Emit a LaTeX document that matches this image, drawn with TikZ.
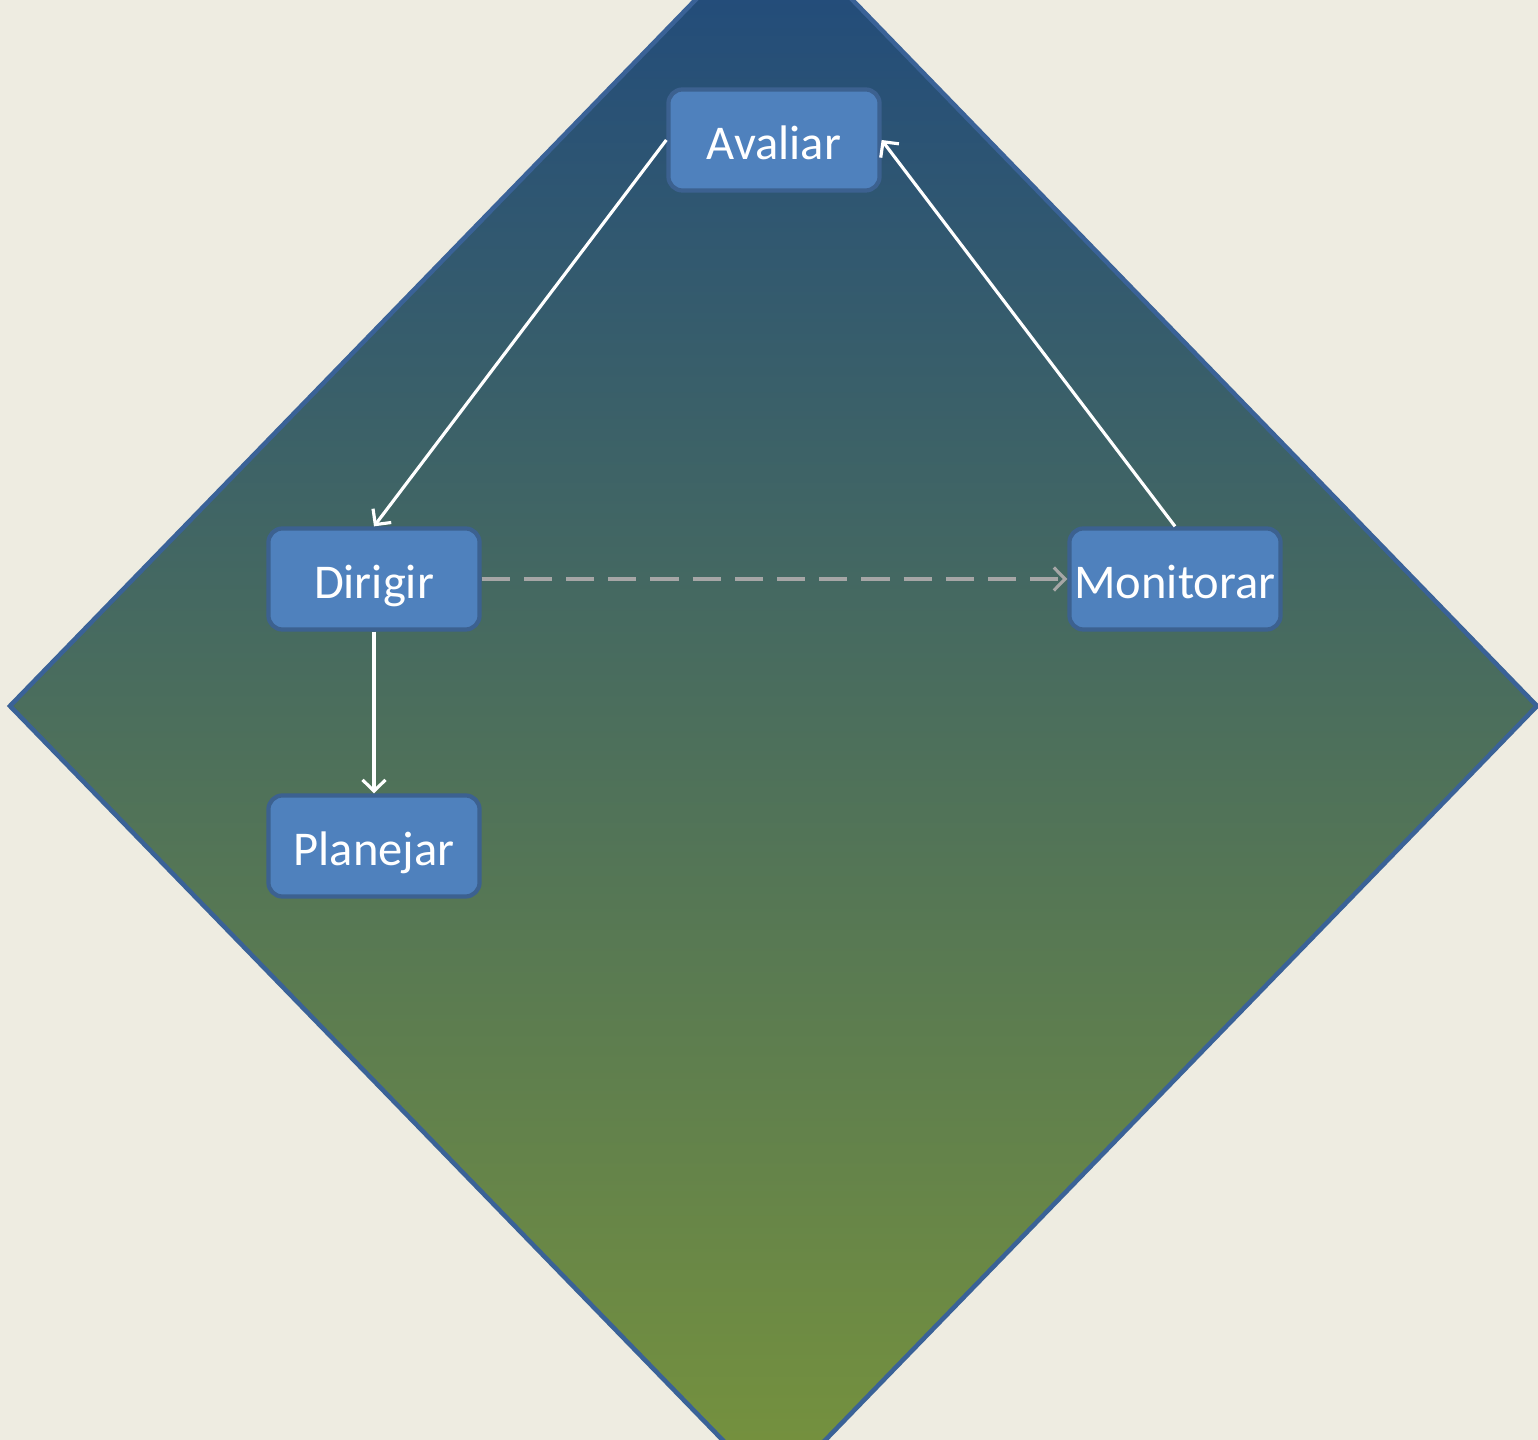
\documentclass[tikz,border=0pt]{standalone}
\usepackage{fontspec}
\setmainfont{Carlito}
\usetikzlibrary{arrows.meta}
\definecolor{paper}{HTML}{EEECE1}
\definecolor{boxfill}{HTML}{4F81BD}
\definecolor{boxline}{HTML}{3C6190}
\definecolor{rim}{HTML}{3A6297}
\definecolor{topblue}{HTML}{1F497D}
\definecolor{olive}{HTML}{77933C}
\definecolor{dashgray}{HTML}{A6A6A6}

\begin{document}
\begin{tikzpicture}[x=0.01cm,y=-0.01cm]
	\tikzstyle{every node}+=[font=\fontsize{13.8}{16}\selectfont, text=white]
	\tikzstyle{stage}=[draw=boxline, fill=boxfill, line width=1.2pt, rounded corners=4pt, minimum width=2.11cm, minimum height=1.01cm, inner sep=0pt, text height=1.2em, text depth=0.1em]
	\tikzstyle{flow}=[white, line width=0.9pt, -{Straight Barb[length=3.2pt,width=6.5pt,line width=0.9pt]}]
	\useasboundingbox (0,0) rectangle (1538,1440);
	\fill[paper] (0,0) rectangle (1538,1440);
	\begin{scope}
	\clip (0,0) rectangle (1538,1440);
	\shade[top color=topblue, bottom color=olive, draw=rim, line width=1.3pt] (10,706) -- (774,-81) -- (1537,706) -- (774,1493) -- cycle;
	\end{scope}
	\node[stage] (avaliar) at (774,140) {Avaliar};
	\node[stage] (dirigir) at (374,579) {Dirigir};
	\node[stage] (monitorar) at (1175,579) {Monitorar};
	\node[stage] (planejar) at (374,846) {Planejar};
	\draw[flow] (avaliar.west) -- (dirigir.north);
	\draw[flow] (monitorar.north) -- (avaliar.east);
	\draw[flow] (dirigir.south) -- (planejar.north);
	\draw[flow, dashgray, dash pattern=on 8pt off 4pt] (dirigir.east) -- (monitorar.west);
\end{tikzpicture}
\end{document}
